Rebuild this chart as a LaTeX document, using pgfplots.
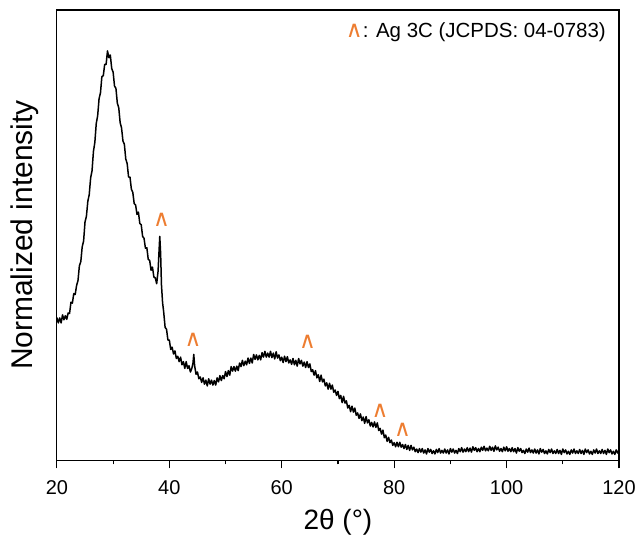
\documentclass[border=0pt]{standalone}
\usepackage{pgfplots}
\usepackage{pgfplotstable}
\pgfplotsset{compat=1.18}
\usepackage{fontspec}
\setmainfont{Liberation Sans}
\newfontfamily\symfont{DejaVu Sans}
\definecolor{caret}{RGB}{237,125,49}
\newcommand{\crt}{{\symfont\color{caret}\fontsize{23}{26}\selectfont ∧}}

\pgfplotstableread{
x y
20.00 0.317
20.25 0.305
20.50 0.316
20.75 0.305
21.00 0.323
21.25 0.312
21.50 0.321
21.75 0.313
22.00 0.327
22.25 0.326
22.50 0.351
22.75 0.349
23.00 0.370
23.25 0.368
23.50 0.388
23.75 0.399
24.00 0.432
24.25 0.441
24.50 0.474
24.75 0.487
25.00 0.529
25.25 0.542
25.50 0.575
25.75 0.590
26.00 0.627
26.25 0.643
26.50 0.686
26.75 0.706
27.00 0.748
27.25 0.765
27.50 0.803
27.75 0.816
28.00 0.852
28.25 0.854
28.50 0.879
28.75 0.879
29.00 0.909
29.25 0.894
29.50 0.900
29.75 0.870
30.00 0.862
30.25 0.831
30.50 0.826
30.75 0.793
31.00 0.783
31.25 0.750
31.50 0.738
31.75 0.709
32.00 0.702
32.25 0.669
32.50 0.659
32.75 0.629
33.00 0.629
33.25 0.602
33.50 0.595
33.75 0.570
34.00 0.567
34.25 0.546
34.50 0.551
34.75 0.526
35.00 0.523
35.25 0.497
35.50 0.493
35.75 0.471
36.00 0.472
36.25 0.446
36.50 0.444
36.75 0.422
37.00 0.429
37.25 0.407
37.50 0.405
37.75 0.392
38.00 0.420
38.15 0.460
38.30 0.497
38.45 0.460
38.60 0.390
38.80 0.350
39.00 0.329
39.25 0.295
39.50 0.291
39.75 0.267
40.00 0.267
40.25 0.246
40.50 0.251
40.75 0.236
41.00 0.243
41.25 0.226
41.50 0.231
41.75 0.219
42.00 0.229
42.25 0.212
42.50 0.219
42.75 0.204
43.00 0.219
43.25 0.204
43.50 0.210
43.75 0.196
44.00 0.204
44.20 0.215
44.35 0.235
44.50 0.210
44.75 0.191
45.00 0.196
45.25 0.181
45.50 0.185
45.75 0.173
46.00 0.183
46.25 0.169
46.50 0.178
46.75 0.165
47.00 0.181
47.25 0.169
47.50 0.178
47.75 0.167
48.00 0.177
48.25 0.167
48.50 0.183
48.75 0.174
49.00 0.188
49.25 0.177
49.50 0.188
49.75 0.181
50.00 0.197
50.25 0.186
50.50 0.199
50.75 0.189
51.00 0.208
51.25 0.198
51.50 0.208
51.75 0.198
52.00 0.209
52.25 0.199
52.50 0.216
52.75 0.208
53.00 0.222
53.25 0.210
53.50 0.220
53.75 0.212
54.00 0.227
54.25 0.215
54.50 0.227
54.75 0.216
55.00 0.235
55.25 0.224
55.50 0.234
55.75 0.223
56.00 0.233
56.25 0.223
56.50 0.239
56.75 0.229
57.00 0.242
57.25 0.229
57.50 0.238
57.75 0.229
58.00 0.242
58.25 0.228
58.50 0.238
58.75 0.225
59.00 0.241
59.25 0.227
59.50 0.234
59.75 0.221
60.00 0.229
60.25 0.217
60.50 0.231
60.75 0.219
61.00 0.230
61.25 0.216
61.50 0.223
61.75 0.213
62.00 0.226
62.25 0.212
62.50 0.222
62.75 0.209
63.00 0.226
63.25 0.214
63.50 0.222
63.75 0.209
64.00 0.218
64.25 0.206
64.50 0.219
64.75 0.206
65.00 0.214
65.25 0.197
65.50 0.201
65.75 0.189
66.00 0.199
66.25 0.183
66.50 0.190
66.75 0.175
67.00 0.189
67.25 0.174
67.50 0.180
67.75 0.165
68.00 0.172
68.25 0.158
68.50 0.171
68.75 0.158
69.00 0.167
69.25 0.151
69.50 0.156
69.75 0.144
70.00 0.153
70.25 0.137
70.50 0.144
70.75 0.128
71.00 0.142
71.25 0.127
71.50 0.132
71.75 0.116
72.00 0.122
72.25 0.108
72.50 0.120
72.75 0.107
73.00 0.116
73.25 0.100
73.50 0.105
73.75 0.093
74.00 0.103
74.25 0.088
74.50 0.096
74.75 0.082
75.00 0.097
75.25 0.083
75.50 0.090
75.75 0.076
76.00 0.084
76.25 0.074
76.50 0.085
76.75 0.073
77.00 0.083
77.25 0.066
77.50 0.071
77.75 0.058
78.00 0.067
78.25 0.050
78.50 0.056
78.75 0.042
79.00 0.051
79.25 0.039
79.50 0.045
79.75 0.033
80.00 0.039
80.25 0.030
80.50 0.040
80.75 0.030
81.00 0.040
81.25 0.029
81.50 0.035
81.75 0.026
82.00 0.035
82.25 0.024
82.50 0.033
82.75 0.022
83.00 0.033
83.25 0.023
83.50 0.029
83.75 0.019
84.00 0.025
84.25 0.017
84.50 0.026
84.75 0.018
85.00 0.026
85.25 0.016
85.50 0.023
85.75 0.014
86.00 0.026
86.25 0.018
86.50 0.024
86.75 0.015
87.00 0.021
87.25 0.014
87.50 0.024
87.75 0.017
88.00 0.026
88.25 0.016
88.50 0.022
88.75 0.016
89.00 0.025
89.25 0.016
89.50 0.023
89.75 0.014
90.00 0.026
90.25 0.018
90.50 0.025
90.75 0.016
91.00 0.022
91.25 0.015
91.50 0.026
91.75 0.019
92.00 0.028
92.25 0.018
92.50 0.025
92.75 0.019
93.00 0.028
93.25 0.019
93.50 0.027
93.75 0.018
94.00 0.030
94.25 0.022
94.50 0.028
94.75 0.019
95.00 0.026
95.25 0.019
95.50 0.029
95.75 0.022
96.00 0.031
96.25 0.021
96.50 0.027
96.75 0.021
97.00 0.031
97.25 0.022
97.50 0.029
97.75 0.020
98.00 0.032
98.25 0.023
98.50 0.029
98.75 0.020
99.00 0.026
99.25 0.019
99.50 0.029
99.75 0.021
100.00 0.030
100.25 0.020
100.50 0.026
100.75 0.019
101.00 0.028
101.25 0.019
101.50 0.026
101.75 0.016
102.00 0.028
102.25 0.020
102.50 0.026
102.75 0.017
103.00 0.022
103.25 0.015
103.50 0.025
103.75 0.018
104.00 0.027
104.25 0.017
104.50 0.023
104.75 0.016
105.00 0.025
105.25 0.016
105.50 0.023
105.75 0.014
106.00 0.026
106.25 0.018
106.50 0.024
106.75 0.015
107.00 0.021
107.25 0.014
107.50 0.024
107.75 0.017
108.00 0.025
108.25 0.015
108.50 0.021
108.75 0.015
109.00 0.024
109.25 0.015
109.50 0.022
109.75 0.013
110.00 0.025
110.25 0.017
110.50 0.023
110.75 0.014
111.00 0.020
111.25 0.013
111.50 0.023
111.75 0.016
112.00 0.025
112.25 0.015
112.50 0.021
112.75 0.015
113.00 0.024
113.25 0.015
113.50 0.022
113.75 0.013
114.00 0.025
114.25 0.017
114.50 0.023
114.75 0.014
115.00 0.020
115.25 0.013
115.50 0.023
115.75 0.016
116.00 0.025
116.25 0.015
116.50 0.021
116.75 0.015
117.00 0.024
117.25 0.015
117.50 0.022
117.75 0.013
118.00 0.025
118.25 0.017
118.50 0.023
118.75 0.014
119.00 0.020
119.25 0.013
119.50 0.023
119.75 0.016
120.00 0.023
}\xrd

\begin{document}
\begin{tikzpicture}
\begin{axis}[
  name=ax, at={(0,0)}, anchor=south west,
  scale only axis, width=563pt, height=451pt,
  xmin=20, xmax=120, ymin=0, ymax=1,
  xtick={20,40,...,120}, minor xtick={30,50,...,110},
  ytick=\empty,
  xtick pos=left, tick align=outside,
  major tick length=8pt, minor tick length=4pt,
  axis line style={line width=1.1pt},
  every tick/.style={line width=1.1pt, black},
  /pgf/number format/assume math mode=true,
  tick label style={font=\fontsize{20}{24}\selectfont},
  xticklabel style={yshift=-9pt},
  xlabel={2θ (°)},
  xlabel style={font=\fontsize{28}{32}\selectfont, at={(axis description cs:0.5,-0.1375)}, anchor=center},
  ylabel={Normalized intensity},
  ylabel style={font=\fontsize{30}{34}\selectfont, at={(axis description cs:-0.0568,0.5)}, anchor=center},
  clip=false,
]
\addplot[black, line width=1.5pt, line join=round] table[x=x, y=y] {\xrd};
\node at (axis cs:38.6,0.534) {\crt};
\node at (axis cs:44.2,0.268) {\crt};
\node at (axis cs:64.6,0.262) {\crt};
\node at (axis cs:77.5,0.109) {\crt};
\node at (axis cs:81.5,0.067) {\crt};
\node[anchor=east, inner sep=0pt, font=\fontsize{20.5}{24}\selectfont] at ([xshift=-13pt, yshift=-22pt]rel axis cs:1,1) {\crt: Ag 3C (JCPDS: 04-0783)};
\end{axis}
\path ([shift={(-57pt,-74pt)}]ax.south west) rectangle ([shift={(19pt,10pt)}]ax.north east);
\end{tikzpicture}
\end{document}
